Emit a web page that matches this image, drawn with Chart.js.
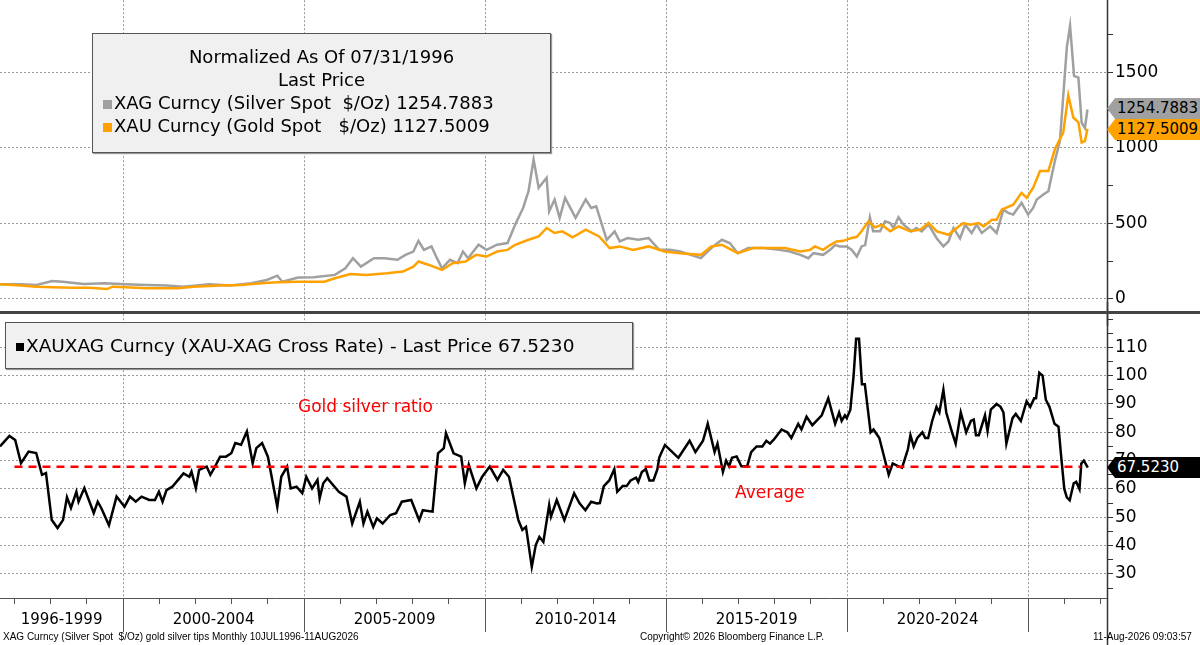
<!DOCTYPE html>
<html>
<head>
<meta charset="utf-8">
<script src="https://cdn.jsdelivr.net/npm/chart.js@4"></script>
<style>
  body { margin: 0; width: 1200px; height: 645px; background: #fff; position: relative; overflow: hidden; font-family: "DejaVu Sans", sans-serif; }
  #topWrap { position: absolute; left: 0; top: -12px; width: 1200px; height: 338px; }
  #botWrap { position: absolute; left: 0; top: 302px; width: 1200px; height: 343px; }
  .sep { position: absolute; left: 0; top: 311px; width: 1200px; height: 3px; background: #444; }
  .legend { position: absolute; background: #f0f0f0; border: 1px solid #555; box-shadow: 1px 1px 1px #999; color: #000; }
  .tag { position: absolute; left: 1107px; width: 93px; height: 21px; font-size: 15px; line-height: 21px; box-sizing: border-box;
         clip-path: polygon(8px 0, 100% 0, 100% 100%, 8px 100%, 0 50%); padding-left: 10px; white-space: nowrap; }
  .red { position: absolute; color: #ff0000; font-size: 17px; }
  .foot { position: absolute; top: 631px; font-size: 10px; color: #000; font-family: "Liberation Sans", Arial, sans-serif; }
</style>
</head>
<body>
<div id="botWrap"><canvas id="botChart"></canvas></div>
<div id="topWrap"><canvas id="topChart"></canvas></div>
<div class="sep"></div>

<div class="legend" style="left:92px;top:33px;width:457px;height:118px;font-size:18px;">
  <div style="text-align:center;margin-top:12px;">Normalized As Of 07/31/1996</div>
  <div style="text-align:center;margin-top:2px;">Last Price</div>
  <div style="margin-left:10px;margin-top:2px;white-space:nowrap;"><span style="display:inline-block;width:9px;height:9px;background:#a0a0a0;margin-right:2px;"></span>XAG Curncy (Silver Spot &nbsp;$/Oz) 1254.7883</div>
  <div style="margin-left:10px;margin-top:2px;white-space:nowrap;"><span style="display:inline-block;width:9px;height:9px;background:#ffa200;margin-right:2px;"></span>XAU Curncy (Gold Spot &nbsp;&nbsp;$/Oz) 1127.5009</div>
</div>
<div class="legend" style="left:5px;top:322px;width:626px;height:45px;font-size:18.5px;line-height:45px;white-space:nowrap;">
  <span style="display:inline-block;width:8px;height:8px;background:#000;margin:0 2px 0 10px;vertical-align:middle;"></span>XAUXAG Curncy (XAU-XAG Cross Rate) - Last Price 67.5230
</div>
<div class="red" style="left:298px;top:396px;">Gold silver ratio</div>
<div class="red" style="left:735px;top:482px;">Average</div>

<div class="tag" style="top:98px;background:#a0a0a0;color:#000;">1254.7883</div>
<div class="tag" style="top:119px;background:#ffa200;color:#000;">1127.5009</div>
<div class="tag" style="top:457px;background:#000;color:#fff;">67.5230</div>

<div class="foot" style="left:3px;">XAG Curncy (Silver Spot &nbsp;$/Oz) gold silver tips Monthly 10JUL1996-11AUG2026</div>
<div class="foot" style="left:640px;">Copyright© 2026 Bloomberg Finance L.P.</div>
<div class="foot" style="left:1093px;">11-Aug-2026 09:03:57</div>

<script>
// silver, normalized to 100 at 07/31/1996  [year, value]
const silverData = [
  [1996.60,96],[1997.18,96],[1997.61,91],[1998.04,118],[1998.33,113],[1998.91,98],[1999.49,102],[2000.07,96],
  [2000.65,91],[2001.22,87],[2001.66,80],[2002.38,96],[2002.96,87],[2003.54,102],[2003.97,124],[2004.26,153],
  [2004.40,113],[2004.84,140],[2005.27,142],[2005.85,158],[2006.14,202],[2006.35,269],[2006.57,213],[2006.93,269],
  [2007.22,269],[2007.58,258],[2007.80,291],[2008.02,313],[2008.16,384],[2008.31,324],[2008.52,347],[2008.67,269],
  [2008.81,202],[2009.03,258],[2009.24,236],[2009.39,313],[2009.53,269],[2009.82,358],[2010.04,324],[2010.33,358],
  [2010.62,369],[2010.83,491],[2011.05,602],[2011.20,713],[2011.34,924],[2011.48,736],[2011.70,802],[2011.77,580],
  [2011.92,658],[2012.06,536],[2012.21,669],[2012.50,536],[2012.78,658],[2012.93,602],[2013.07,613],[2013.36,391],
  [2013.58,447],[2013.72,380],[2013.94,402],[2014.23,391],[2014.52,402],[2014.81,324],[2015.10,324],[2015.39,313],
  [2015.68,291],[2015.96,269],[2016.25,336],[2016.54,391],[2016.76,369],[2016.98,302],[2017.27,336],[2017.70,336],
  [2018.13,324],[2018.42,313],[2018.71,291],[2018.93,269],[2019.07,302],[2019.34,291],[2019.53,324],[2019.67,356],
  [2019.80,347],[2019.99,347],[2020.13,324],[2020.27,280],[2020.40,347],[2020.50,356],[2020.63,540],[2020.72,447],
  [2020.91,447],[2021.05,513],[2021.19,502],[2021.28,469],[2021.42,540],[2021.56,491],[2021.78,447],[2021.91,469],
  [2022.06,447],[2022.25,491],[2022.48,400],[2022.66,347],[2022.80,380],[2022.94,469],[2023.12,400],[2023.26,491],
  [2023.44,436],[2023.58,491],[2023.72,436],[2023.95,480],[2024.13,436],[2024.32,591],[2024.45,569],[2024.59,558],
  [2024.82,636],[2025.00,558],[2025.14,602],[2025.24,658],[2025.42,691],[2025.56,713],[2025.74,913],[2025.88,1047],
  [2026.07,1667],[2026.16,1811],[2026.27,1478],[2026.39,1467],[2026.48,1167],[2026.57,1133],[2026.64,1254.79]
];
// gold, normalized to 100 at 07/31/1996  [year, value]
const goldData = [
  [1996.60,96],[1997.18,87],[1997.61,80],[1998.04,76],[1998.62,73],[1999.06,73],[1999.56,64],[1999.71,80],
  [2000.07,76],[2000.65,69],[2001.22,69],[2001.51,69],[2001.95,80],[2002.67,87],[2003.25,91],[2003.83,102],
  [2004.26,109],[2004.84,113],[2005.56,113],[2005.85,136],[2006.28,164],[2006.72,158],[2007.29,169],[2007.73,180],
  [2008.02,213],[2008.16,247],[2008.45,224],[2008.81,191],[2009.10,236],[2009.46,247],[2009.75,291],[2010.04,280],
  [2010.33,313],[2010.62,324],[2010.83,358],[2011.20,391],[2011.48,413],[2011.70,469],[2011.92,436],[2012.13,447],
  [2012.42,407],[2012.78,458],[2013.15,413],[2013.44,336],[2013.72,347],[2014.09,324],[2014.52,347],[2014.95,313],
  [2015.39,302],[2015.96,291],[2016.25,347],[2016.54,358],[2016.98,302],[2017.41,336],[2017.84,336],[2018.28,336],
  [2018.71,313],[2018.98,324],[2019.11,347],[2019.34,324],[2019.53,356],[2019.71,380],[2019.90,384],[2020.08,400],
  [2020.27,411],[2020.40,447],[2020.59,513],[2020.77,473],[2020.96,491],[2021.19,447],[2021.42,480],[2021.74,447],
  [2022.02,458],[2022.25,502],[2022.48,447],[2022.80,424],[2023.03,469],[2023.21,502],[2023.40,491],[2023.63,502],
  [2023.77,480],[2024.00,524],[2024.13,524],[2024.27,591],[2024.59,624],[2024.82,702],[2024.96,669],[2025.14,736],
  [2025.33,847],[2025.56,847],[2025.74,991],[2025.97,1102],[2026.11,1349],[2026.25,1202],[2026.39,1169],[2026.48,1036],
  [2026.57,1045],[2026.64,1127.50]
];
// gold / silver ratio  [year, value]
const ratioData = [
  [1996.60,75],[1996.86,78.7],[1997.02,77.3],[1997.18,69.1],[1997.39,73.2],[1997.60,72.7],[1997.76,65],[1997.87,65.6],
  [1998.03,49],[1998.19,46.2],[1998.34,49],[1998.45,57.1],[1998.56,53.3],[1998.71,59],[1998.77,55.5],[1998.93,60.3],
  [1999.19,51.5],[1999.30,55.5],[1999.40,53.2],[1999.61,47.2],[1999.82,57.3],[2000.04,53.7],[2000.19,57.3],[2000.35,55.5],
  [2000.51,57.3],[2000.72,56.1],[2000.88,56.1],[2000.99,59],[2001.09,55.5],[2001.20,59.6],[2001.36,60.8],[2001.52,63.2],
  [2001.67,65.5],[2001.83,64.3],[2001.89,66.1],[2002.01,60.3],[2002.10,66.7],[2002.31,67.9],[2002.41,65],[2002.52,67.4],
  [2002.68,71.4],[2002.84,71.4],[2002.99,72.6],[2003.10,76.2],[2003.26,75.6],[2003.42,80.3],[2003.58,69.1],[2003.68,74.4],
  [2003.84,76.2],[2004.00,71.4],[2004.26,53.7],[2004.37,64.3],[2004.53,67.9],[2004.63,60.2],[2004.79,60.8],[2004.95,58.5],
  [2005.06,64.3],[2005.22,60.2],[2005.37,63.2],[2005.43,56.7],[2005.53,62],[2005.64,63.8],[2005.96,59],[2006.17,57.3],
  [2006.33,47.8],[2006.54,55.5],[2006.64,47.8],[2006.75,52],[2006.91,46.6],[2007.01,49.6],[2007.17,47.8],[2007.38,50.8],
  [2007.54,51.4],[2007.70,55.5],[2007.96,56.1],[2008.18,49],[2008.28,52.5],[2008.55,52],[2008.70,72.6],[2008.86,74.4],
  [2008.92,79.7],[2009.13,72.6],[2009.34,71.4],[2009.44,62],[2009.55,68.5],[2009.76,60.2],[2009.92,64.3],[2010.13,67.9],
  [2010.34,63.2],[2010.50,66.7],[2010.66,64.3],[2010.92,49],[2011.03,45.5],[2011.13,46.6],[2011.29,32.5],[2011.40,40.2],
  [2011.50,43.1],[2011.61,41.3],[2011.77,54.3],[2011.82,50.2],[2011.98,56.1],[2012.19,49],[2012.46,58.5],[2012.61,54.9],
  [2012.77,52.5],[2012.93,55.5],[2013.09,54.9],[2013.17,55],[2013.28,61],[2013.43,63],[2013.57,67],[2013.65,59],
  [2013.80,61],[2013.91,61],[2014.02,63],[2014.17,64],[2014.23,62.5],[2014.33,66],[2014.44,67],[2014.54,63],
  [2014.65,63],[2014.76,67],[2014.81,71],[2014.86,72.5],[2014.97,75.5],[2015.34,71],[2015.65,77],[2015.81,73],
  [2016.02,77],[2016.15,83],[2016.34,73],[2016.42,76],[2016.57,66],[2016.66,70],[2016.74,68],[2016.82,71],
  [2016.95,71.5],[2017.08,68],[2017.24,68],[2017.35,73],[2017.50,75],[2017.66,75],[2017.77,77],[2017.87,76],
  [2017.98,77.5],[2018.19,81],[2018.35,80],[2018.46,78],[2018.65,83],[2018.74,81],[2018.88,85.5],[2019.04,82.5],
  [2019.30,86],[2019.48,92],[2019.67,83],[2019.78,87],[2019.85,84],[2019.94,86],[2019.99,85],[2020.09,88],
  [2020.18,100],[2020.25,113],[2020.33,113],[2020.41,97],[2020.49,97],[2020.65,80],[2020.73,81],[2020.89,78],
  [2021.01,72],[2021.15,65],[2021.26,69],[2021.42,68],[2021.52,67.5],[2021.68,74],[2021.75,79],[2021.84,75],
  [2021.94,78],[2022.08,80],[2022.16,78],[2022.24,78],[2022.35,84],[2022.47,89],[2022.55,87],[2022.66,95],
  [2022.74,87],[2022.90,80],[2023.00,76],[2023.14,87],[2023.29,80],[2023.42,84],[2023.50,84.5],[2023.56,79],
  [2023.64,79],[2023.81,86],[2023.88,80.5],[2023.97,88],[2024.13,90],[2024.24,89],[2024.32,87],[2024.40,76],
  [2024.57,85],[2024.66,86.5],[2024.80,84],[2024.96,91],[2025.06,89],[2025.17,92],[2025.22,92],[2025.31,101],
  [2025.40,100],[2025.49,91.5],[2025.59,89],[2025.73,83],[2025.84,82],[2025.91,72],[2026.00,60],[2026.07,57],
  [2026.15,56],[2026.26,62],[2026.33,62.5],[2026.42,60],[2026.47,69],[2026.54,70],[2026.65,67.52]
];
const ratioAverage = 67.8;
const averageSpan = [1997.0, 2026.45];
const periodLabels = ['1996-1999', '2000-2004', '2005-2009', '2010-2014', '2015-2019', '2020-2024', ''];
const periodBounds = [1996.6, 2000, 2005, 2010, 2015, 2020, 2025, 2027.18];
const topTicks = [0, 500, 1000, 1500];
const botTicks = [30, 40, 50, 60, 70, 80, 90, 100, 110];

const X_MIN = 1996.6, X_MAX = 2027.18;
const FONT = "'DejaVu Sans', sans-serif";
const pts = arr => arr.map(p => ({ x: p[0], y: p[1] }));

function xScale(hideAxis) {
  return {
    type: 'linear', min: X_MIN, max: X_MAX, offset: false, display: !hideAxis,
    afterBuildTicks: s => { const t = []; for (let y = 1997; y <= 2027; y++) t.push({ value: y }); s.ticks = t; },
    grid: { drawOnChartArea: false, tickColor: '#555', tickLength: 6 },
    border: { display: false },
    ticks: { display: false, autoSkip: false },
    afterFit: s => { s.height = hideAxis ? 0 : 47; }
  };
}
function yScale(min, max, step, labels) {
  return {
    position: 'right', min: min, max: max,
    afterBuildTicks: s => { const t = []; for (let v = Math.ceil(min / step) * step; v <= max; v += step) t.push({ value: v }); s.ticks = t; },
    grid: {
      color: c => labels.includes(c.tick && c.tick.value) ? '#999' : 'rgba(0,0,0,0)',
      tickColor: '#333', tickLength: 6
    },
    border: { display: false, dash: [2, 2] },
    ticks: {
      color: '#000', font: { family: FONT, size: 17 }, padding: 2, autoSkip: false,
      callback: v => labels.includes(v) ? String(v) : ''
    },
    afterFit: s => { s.width = 93; }
  };
}

// solid right axis line and dotted 5-year gridlines
const frame = {
  id: 'frame',
  beforeDatasetsDraw(chart) {
    const ctx = chart.ctx, a = chart.chartArea, xs = chart.scales.x;
    ctx.save();
    ctx.strokeStyle = '#999'; ctx.lineWidth = 1; ctx.setLineDash([2, 2]);
    for (let y = 2000; y <= 2025; y += 5) {
      const x = Math.round(xs.getPixelForValue(y)) + 0.5;
      ctx.beginPath(); ctx.moveTo(x, a.top); ctx.lineTo(x, a.bottom); ctx.stroke();
    }
    ctx.restore();
  },
  afterDraw(chart) {
    const ctx = chart.ctx, a = chart.chartArea;
    ctx.save();
    ctx.strokeStyle = '#333'; ctx.lineWidth = 1.5;
    ctx.beginPath(); ctx.moveTo(a.right + 0.5, 0); ctx.lineTo(a.right + 0.5, chart.height); ctx.stroke();
    ctx.restore();
  }
};
const periodAxis = {
  id: 'periodAxis',
  afterDraw(chart) {
    const ctx = chart.ctx, a = chart.chartArea, xs = chart.scales.x;
    ctx.save();
    ctx.strokeStyle = '#555'; ctx.lineWidth = 1;
    ctx.beginPath(); ctx.moveTo(0, a.bottom + 0.5); ctx.lineTo(a.right, a.bottom + 0.5); ctx.stroke();
    ctx.fillStyle = '#000'; ctx.font = '15px ' + FONT; ctx.textAlign = 'center'; ctx.textBaseline = 'middle';
    for (let i = 0; i < periodLabels.length; i++) {
      const x0 = xs.getPixelForValue(periodBounds[i]), x1 = xs.getPixelForValue(periodBounds[i + 1]);
      if (i > 0) { ctx.beginPath(); ctx.moveTo(Math.round(x0) + 0.5, a.bottom); ctx.lineTo(Math.round(x0) + 0.5, a.bottom + 34); ctx.stroke(); }
      ctx.fillText(periodLabels[i], (Math.max(x0, 0) + x1) / 2, a.bottom + 22);
    }
    ctx.restore();
  }
};

const common = {
  responsive: true, maintainAspectRatio: false, animation: false,
  layout: { padding: 0 },
  plugins: { legend: { display: false }, tooltip: { enabled: false } },
  elements: { point: { radius: 0 }, line: { tension: 0 } }
};

new Chart(document.getElementById('topChart'), {
  type: 'line',
  data: {
    datasets: [
      { data: pts(goldData), borderColor: '#ffa200', borderWidth: 2.5 },
      { data: pts(silverData), borderColor: '#a0a0a0', borderWidth: 2.5 }
    ]
  },
  options: Object.assign({}, common, {
    scales: { x: xScale(true), y: yScale(-100, 1980, 250, topTicks) }
  }),
  plugins: [frame]
});

new Chart(document.getElementById('botChart'), {
  type: 'line',
  data: {
    datasets: [
      { data: averageSpan.map(x => ({ x: x, y: ratioAverage })), borderColor: '#ff0000', borderWidth: 2.5, borderDash: [8, 6] },
      { data: pts(ratioData), borderColor: '#000', borderWidth: 2.5 }
    ]
  },
  options: Object.assign({}, common, {
    scales: { x: xScale(false), y: yScale(21.5, 121.7, 5, botTicks) }
  }),
  plugins: [frame, periodAxis]
});
</script>
</body>
</html>
